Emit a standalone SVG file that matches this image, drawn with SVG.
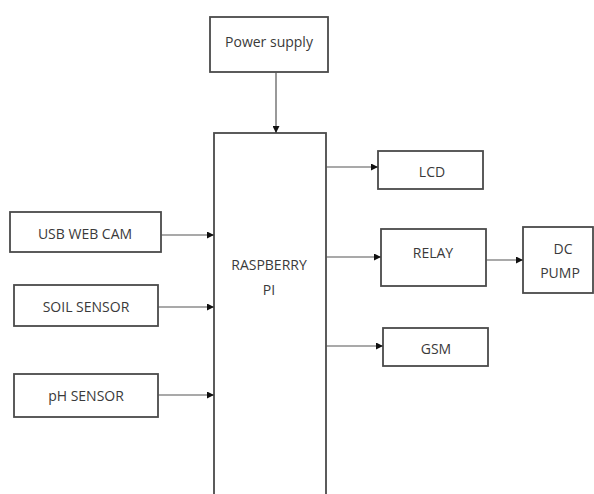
<svg xmlns="http://www.w3.org/2000/svg" width="594" height="494" viewBox="0 0 594 494">
<style>
.box{fill:#fff;stroke:#4a4a4a;stroke-width:1.8}
.lbl{font-family:"Open Sans","Noto Sans",sans-serif;font-size:14px;fill:#3a3a3a;text-anchor:middle;dominant-baseline:central}
.con{stroke:#555;stroke-width:1.2;fill:none;marker-end:url(#ah)}
</style>
<defs>
<marker id="ah" viewBox="0 0 10 10" refX="10" refY="5" markerWidth="7" markerHeight="7" markerUnits="userSpaceOnUse" orient="auto">
<path d="M0,0 L10,5 L0,10 z" fill="#111"/>
</marker>
</defs>
<rect width="594" height="494" fill="#fff"/>
<g id="power"><rect class="box" x="210" y="17" width="118" height="55"/><text class="lbl" x="269" y="41">Power supply</text></g>
<g id="pi"><rect class="box" x="214" y="133" width="112" height="380"/><text class="lbl" x="269" y="264">RASPBERRY</text><text class="lbl" x="269" y="289">PI</text></g>
<g id="usb"><rect class="box" x="10" y="212" width="151" height="40"/><text class="lbl" x="85" y="233">USB WEB CAM</text></g>
<g id="soil"><rect class="box" x="14" y="285" width="144" height="41"/><text class="lbl" x="86" y="306">SOIL SENSOR</text></g>
<g id="ph"><rect class="box" x="14" y="374" width="144" height="43"/><text class="lbl" x="86" y="395">pH SENSOR</text></g>
<g id="lcd"><rect class="box" x="378" y="151" width="105" height="38"/><text class="lbl" x="432" y="171">LCD</text></g>
<g id="relay"><rect class="box" x="381" y="229" width="105" height="57"/><text class="lbl" x="433" y="252">RELAY</text></g>
<g id="dcpump"><rect class="box" x="523" y="227" width="70" height="66"/><text class="lbl" x="563" y="248">DC</text><text class="lbl" x="560" y="272">PUMP</text></g>
<g id="gsm"><rect class="box" x="383" y="328" width="105" height="38"/><text class="lbl" x="436" y="348">GSM</text></g>
<g id="connectors">
<line class="con" x1="276" y1="72" x2="276" y2="133"/>
<line class="con" x1="161" y1="235" x2="214" y2="235"/>
<line class="con" x1="158" y1="307" x2="214" y2="307"/>
<line class="con" x1="158" y1="395" x2="214" y2="395"/>
<line class="con" x1="326" y1="167" x2="378" y2="167"/>
<line class="con" x1="326" y1="257" x2="381" y2="257"/>
<line class="con" x1="486" y1="260" x2="523" y2="260"/>
<line class="con" x1="326" y1="346" x2="383" y2="346"/>
</g>
</svg>
